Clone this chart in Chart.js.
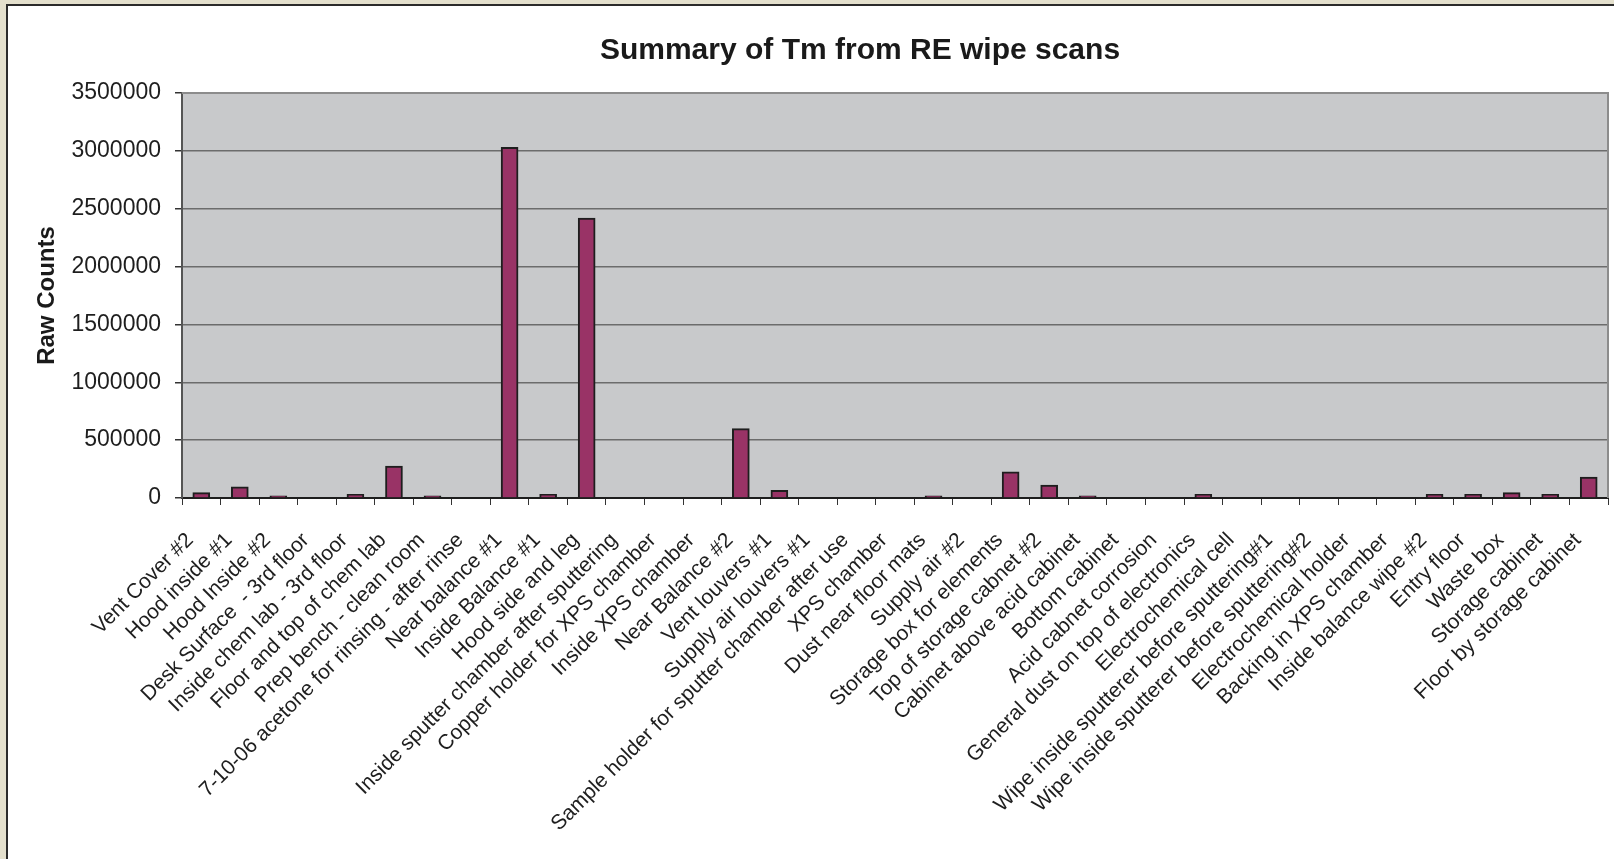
<!DOCTYPE html>
<html>
<head>
<meta charset="utf-8">
<script src="https://cdn.jsdelivr.net/npm/chart.js@4/dist/chart.umd.min.js"></script>
<style>
  html, body { margin: 0; padding: 0; width: 1614px; height: 859px; overflow: hidden; background: #e4e0cd; }
  #frame { position: absolute; left: 6px; top: 4px; width: 1620px; height: 870px; background: #ffffff;
           border-left: 2px solid #2b2b2b; border-top: 2px solid #2b2b2b; }
  #wrap { position: absolute; left: 0; top: 0; width: 1614px; height: 859px; }
</style>
</head>
<body>
<div id="frame"></div>
<div id="wrap"><canvas id="c" width="1614" height="859"></canvas></div>
<script>
const categories = [
  "Vent Cover #2",
  "Hood inside #1",
  "Hood Inside #2",
  "Desk Surface  - 3rd floor",
  "Inside chem lab - 3rd floor",
  "Floor and top of chem lab",
  "Prep bench - clean room",
  "7-10-06 acetone for rinsing - after rinse",
  "Near balance #1",
  "Inside Balance #1",
  "Hood side and leg",
  "Inside sputter chamber after sputtering",
  "Copper holder for XPS chamber",
  "Inside XPS chamber",
  "Near Balance #2",
  "Vent louvers #1",
  "Supply air louvers #1",
  "Sample holder for sputter chamber after use",
  "XPS chamber",
  "Dust near floor mats",
  "Supply air #2",
  "Storage box for elements",
  "Top of storage cabnet #2",
  "Cabinet above acid cabinet",
  "Bottom cabinet",
  "Acid cabnet corrosion",
  "General dust on top of electronics",
  "Electrochemical cell",
  "Wipe inside sputterer before sputtering#1",
  "Wipe inside sputterer before sputtering#2",
  "Electrochemical holder",
  "Backing in XPS chamber",
  "Inside balance wipe #2",
  "Entry floor",
  "Waste box",
  "Storage cabinet",
  "Floor by storage cabinet"
];
const rawCounts = [
  46000, 97000, 18000, 0, 32000, 276000, 18000, 0, 3030000, 32000,
  2420000, 0, 0, 0, 600000, 66000, 0, 0, 0, 18000,
  0, 227000, 112000, 18000, 0, 0, 32000, 0, 0, 0,
  0, 0, 32000, 32000, 46000, 32000, 181000
];
const yTicks = [0, 500000, 1000000, 1500000, 2000000, 2500000, 3000000, 3500000];
const chartTitle = "Summary of Tm from RE wipe scans";
const yTitle = "Raw Counts";

const FONT = "'Liberation Sans', Arial, Helvetica, sans-serif";

const plotBg = {
  id: 'plotBg',
  beforeDraw(chart) {
    const {ctx, chartArea: a} = chart;
    ctx.save();
    ctx.fillStyle = '#c8c9cb';
    ctx.fillRect(a.left, a.top, a.right - a.left, a.bottom - a.top);
    ctx.restore();
  },
  afterDatasetsDraw(chart) {
    const {ctx, chartArea: a} = chart;
    ctx.save();
    ctx.strokeStyle = '#8c8c8c';
    ctx.lineWidth = 2;
    ctx.beginPath();
    ctx.moveTo(a.left, a.top);
    ctx.lineTo(a.right, a.top);
    ctx.lineTo(a.right, a.bottom);
    ctx.stroke();
    ctx.restore();
  },
  afterLayout(chart) {
    const t = chart.titleBlock;
    if (t) {
      const w = t.right - t.left;
      t.left = 860 - w / 2;
      t.right = 860 + w / 2;
    }
  }
};

new Chart(document.getElementById('c'), {
  type: 'bar',
  data: {
    labels: categories,
    datasets: [{
      data: rawCounts,
      backgroundColor: '#993366',
      borderColor: '#1e1e1e',
      borderWidth: 2,
      barThickness: 17
    }]
  },
  options: {
    responsive: false,
    animation: false,
    layout: { padding: { left: 8, right: 6, top: 7, bottom: 0 } },
    plugins: {
      legend: { display: false },
      tooltip: { enabled: false },
      title: {
        display: true,
        text: chartTitle,
        color: '#1a1a1a',
        font: { family: FONT, size: 30, weight: 'bold' },
        padding: { top: 26, bottom: 24 }
      }
    },
    scales: {
      x: {
        grid: { display: true, drawOnChartArea: false, drawTicks: true, tickLength: 7, color: '#333333', offset: true },
        border: { display: true, color: '#1e1e1e', width: 2 },
        ticks: {
          autoSkip: false,
          minRotation: 45,
          maxRotation: 45,
          padding: 23,
          labelOffset: -11,
          color: '#1e1e1e',
          font: { family: FONT, size: 21 }
        },
        afterFit(scale) {
          scale.height = 361;
          scale.paddingLeft = 0;
          scale.paddingRight = 0;
        }
      },
      y: {
        min: 0,
        max: 3500000,
        afterBuildTicks(scale) { scale.ticks = yTicks.map(v => ({ value: v })); },
        grid: {
          color: ctx => (ctx.tick && ctx.tick.value === 0) ? '#1e1e1e' : (ctx.tick && ctx.tick.value === 3500000 ? '#8c8c8c' : '#6c6c6c'),
          lineWidth: 1.5,
          tickLength: 7,
          tickColor: '#333333'
        },
        border: { display: true, color: '#555555', width: 2 },
        ticks: {
          padding: 14,
          color: '#1e1e1e',
          font: { family: FONT, size: 23 },
          callback: v => String(v)
        },
        title: {
          display: true,
          text: yTitle,
          color: '#1a1a1a',
          font: { family: FONT, size: 24, weight: 'bold' },
          padding: { top: 25, bottom: 0 }
        },
        afterFit(scale) { scale.width = 174; }
      }
    }
  },
  plugins: [plotBg]
});
</script>
</body>
</html>
